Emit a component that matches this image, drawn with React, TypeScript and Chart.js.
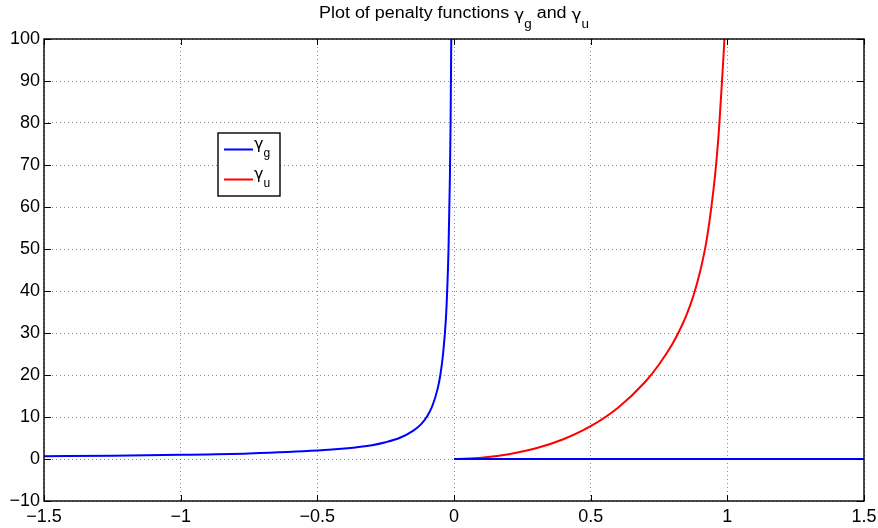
import React, { useEffect, useRef } from "react";
import { Chart, registerables } from "chart.js";

Chart.register(...registerables);

// ---- data ----
const GAMMA_G_LEFT_X = [-1.5, -1.25, -1, -0.75, -0.5, -0.4, -0.3, -0.25, -0.2, -0.15, -0.12, -0.1, -0.08, -0.06, -0.05, -0.04, -0.03, -0.025, -0.02, -0.015, -0.0125, -0.01, -0.009];
const GAMMA_G_LEFT_Y = [0.67, 0.8, 1, 1.33, 2, 2.5, 3.3, 4, 5, 6.7, 8.3, 10, 12.5, 16.7, 20, 25, 33, 40, 50, 67, 80, 100, 111];
const GAMMA_G_RIGHT_X = [0, 1.5];
const GAMMA_G_RIGHT_Y = [0, 0];
const GAMMA_U_X = [0, 0.1, 0.2, 0.3, 0.4, 0.5, 0.6, 0.7, 0.75, 0.8, 0.825, 0.85, 0.875, 0.9, 0.925, 0.95, 0.96, 0.97, 0.98, 0.99, 0.995];
const GAMMA_U_Y = [0, 0.3, 1.15, 2.55, 4.7, 7.8, 12.2, 18.4, 22.5, 27.5, 30.6, 34.2, 38.7, 44.5, 52.4, 64.5, 70.9, 79, 89.5, 101, 110];

const X_TICKS = [-1.5, -1, -0.5, 0, 0.5, 1, 1.5];
const X_TICK_LABELS = ["\u22121.5", "\u22121", "\u22120.5", "0", "0.5", "1", "1.5"];
const Y_TICKS = [-10, 0, 10, 20, 30, 40, 50, 60, 70, 80, 90, 100];
const Y_TICK_LABELS = ["\u221210", "0", "10", "20", "30", "40", "50", "60", "70", "80", "90", "100"];

const TITLE_PARTS = [
  { t: "Plot of penalty functions ", sub: false },
  { t: "\u03b3", sub: false },
  { t: "g", sub: true },
  { t: " and ", sub: false },
  { t: "\u03b3", sub: false },
  { t: "u", sub: true },
];
const LEGEND_LABELS = [
  { main: "\u03b3", sub: "g", color: "#0000ff" },
  { main: "\u03b3", sub: "u", color: "#ff0000" },
];

const FONT = '"Liberation Sans", Arial, Helvetica, sans-serif';
const GREEK_FONT = '"DejaVu Sans", sans-serif';

const decorPlugin = {
  id: "decor",
  afterDatasetsDraw(chart: any) {
    const { ctx, chartArea } = chart;
    const { left, right, top, bottom } = chartArea;
    ctx.save();
    ctx.strokeStyle = "#000";
    ctx.lineWidth = 1.4;
    ctx.strokeRect(left, top, right - left, bottom - top);
    const xs = chart.scales.x;
    const ys = chart.scales.y;
    ctx.lineWidth = 1;
    ctx.beginPath();
    X_TICKS.forEach((v) => {
      const px = Math.round(xs.getPixelForValue(v)) + 0.5;
      ctx.moveTo(px, bottom);
      ctx.lineTo(px, bottom - 6);
      ctx.moveTo(px, top);
      ctx.lineTo(px, top + 6);
    });
    Y_TICKS.forEach((v) => {
      const py = Math.round(ys.getPixelForValue(v)) + 0.5;
      ctx.moveTo(left, py);
      ctx.lineTo(left + 7, py);
      ctx.moveTo(right, py);
      ctx.lineTo(right - 7, py);
    });
    ctx.stroke();
    ctx.restore();
  },
  afterDraw(chart: any) {
    const { ctx, chartArea } = chart;
    ctx.save();
    // title
    const sx = 1.12;
    const fontFor = (p: { t: string; sub: boolean }) =>
      p.sub ? `12px ${FONT}` : p.t === "\u03b3" ? `15px ${GREEK_FONT}` : `16px ${FONT}`;
    let total = 0;
    const widths = TITLE_PARTS.map((p) => {
      ctx.font = fontFor(p);
      const w = ctx.measureText(p.t).width;
      total += w;
      return w;
    });
    const cx = (chartArea.left + chartArea.right) / 2;
    ctx.translate(cx, 0);
    ctx.scale(sx, 1);
    let x = -total / 2;
    ctx.fillStyle = "#000";
    ctx.textBaseline = "alphabetic";
    ctx.textAlign = "left";
    TITLE_PARTS.forEach((p, i) => {
      ctx.font = fontFor(p);
      const isGamma = p.t === "\u03b3";
      const y = p.sub ? 27.5 : isGamma ? 20 : 17.5;
      ctx.fillText(p.t, x, y);
      x += widths[i];
    });
    ctx.setTransform(1, 0, 0, 1, 0, 0);

    // legend
    const bx = 218, by = 133, bw = 62, bh = 63;
    ctx.fillStyle = "#fff";
    ctx.fillRect(bx, by, bw, bh);
    ctx.strokeStyle = "#000";
    ctx.lineWidth = 1.4;
    ctx.strokeRect(bx, by, bw, bh);
    LEGEND_LABELS.forEach((l, i) => {
      const ly = 149.5 + i * 30;
      ctx.strokeStyle = l.color;
      ctx.lineWidth = 2;
      ctx.beginPath();
      ctx.moveTo(224, ly);
      ctx.lineTo(253, ly);
      ctx.stroke();
      ctx.fillStyle = "#000";
      ctx.font = `16px ${GREEK_FONT}`;
      ctx.fillText(l.main, 254, ly - 0.5);
      const gw = ctx.measureText(l.main).width;
      ctx.font = `12px ${FONT}`;
      ctx.fillText(l.sub, 254 + gw, ly + 7.5);
    });
    ctx.restore();
  },
};

export default function App() {
  const ref = useRef<HTMLCanvasElement | null>(null);
  useEffect(() => {
    document.body.style.margin = "0";
    const canvas = ref.current;
    if (!canvas) return;
    const leftData = GAMMA_G_LEFT_X.map((x, i) => ({ x, y: GAMMA_G_LEFT_Y[i] }));
    const rightData = GAMMA_G_RIGHT_X.map((x, i) => ({ x, y: GAMMA_G_RIGHT_Y[i] }));
    const gData = [...leftData, { x: -0.005, y: null as any }, ...rightData];
    const uData = GAMMA_U_X.map((x, i) => ({ x, y: GAMMA_U_Y[i] }));
    const tickFont = { family: FONT, size: 18 };
    const chart = new Chart(canvas, {
      type: "line",
      data: {
        datasets: [
          {
            label: "\u03b3g",
            data: gData,
            borderColor: "#0000ff",
            borderWidth: 2,
            pointRadius: 0,
            fill: false,
            spanGaps: false,
            cubicInterpolationMode: "monotone",
          },
          {
            label: "\u03b3u",
            data: uData,
            borderColor: "#ff0000",
            borderWidth: 2,
            pointRadius: 0,
            fill: false,
            cubicInterpolationMode: "monotone",
          },
        ],
      },
      options: {
        responsive: false,
        animation: false,
        layout: { padding: { top: 39, right: 14, left: 0, bottom: 0 } },
        plugins: {
          legend: { display: false },
          title: { display: false },
          tooltip: { enabled: false },
        },
        scales: {
          x: {
            type: "linear",
            min: -1.5,
            max: 1.5,
            afterBuildTicks: (s: any) => {
              s.ticks = X_TICKS.map((v) => ({ value: v }));
            },
            afterFit: (s: any) => {
              s.height = 27;
              s.paddingLeft = 0;
              s.paddingRight = 0;
            },
            ticks: {
              autoSkip: false,
              maxRotation: 0,
              color: "#000",
              font: tickFont,
              padding: 5,
              callback: (v: any) => {
                const i = X_TICKS.findIndex((t) => Math.abs(t - Number(v)) < 1e-9);
                return i >= 0 ? X_TICK_LABELS[i] : "";
              },
            },
            grid: { color: "rgba(0,0,0,0.45)", drawTicks: false, lineWidth: 1 },
            border: { display: false, dash: [1, 3] },
          },
          y: {
            type: "linear",
            min: -10,
            max: 100,
            afterBuildTicks: (s: any) => {
              s.ticks = Y_TICKS.map((v) => ({ value: v }));
            },
            afterFit: (s: any) => {
              s.width = 44;
              s.paddingTop = 0;
              s.paddingBottom = 0;
            },
            ticks: {
              autoSkip: false,
              color: "#000",
              font: tickFont,
              padding: 4,
              callback: (v: any) => {
                const i = Y_TICKS.findIndex((t) => Math.abs(t - Number(v)) < 1e-9);
                return i >= 0 ? Y_TICK_LABELS[i] : "";
              },
            },
            grid: { color: "rgba(0,0,0,0.45)", drawTicks: false, lineWidth: 1 },
            border: { display: false, dash: [1, 3] },
          },
        },
      } as any,
      plugins: [decorPlugin],
    });
    return () => chart.destroy();
  }, []);
  return (
    <div style={{ width: 878, height: 528, background: "#fff" }}>
      <canvas ref={ref} width={878} height={528} style={{ display: "block" }} />
    </div>
  );
}
